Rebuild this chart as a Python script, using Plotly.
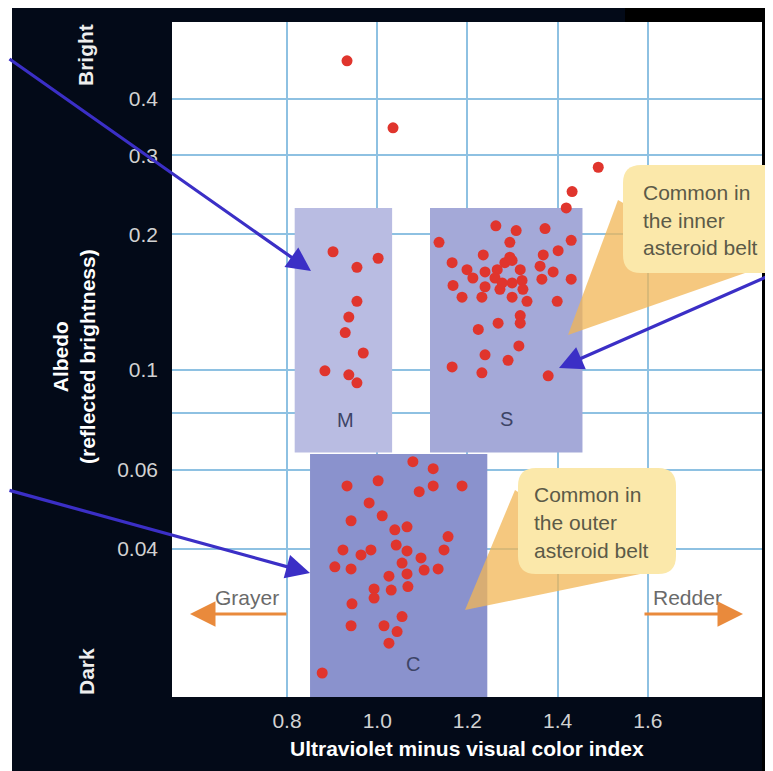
import plotly.graph_objects as go

# ---------------- data ----------------
# M-type asteroids
m_color = [0.902, 0.955, 1.002, 0.955, 0.937, 0.929, 0.969, 0.884, 0.937, 0.955]
m_albedo = [0.183, 0.169, 0.177, 0.142, 0.131, 0.121, 0.109, 0.0995, 0.0975, 0.0936]

# S-type asteroids
s_color = [1.263, 1.308, 1.372, 1.137, 1.294, 1.430, 1.235, 1.294, 1.368, 1.401,
           1.166, 1.283, 1.361, 1.199, 1.239, 1.266, 1.317, 1.390, 1.212, 1.261,
           1.321, 1.365, 1.430, 1.168, 1.239, 1.272, 1.299, 1.323, 1.188, 1.232,
           1.299, 1.332, 1.399, 1.317, 1.317, 1.268, 1.224, 1.314, 1.239, 1.290,
           1.166, 1.232, 1.379, 1.299, 1.277]
s_albedo = [0.209, 0.204, 0.206, 0.192, 0.192, 0.194, 0.180, 0.178, 0.180, 0.184,
            0.173, 0.173, 0.170, 0.167, 0.165, 0.167, 0.167, 0.165, 0.160, 0.160,
            0.158, 0.159, 0.159, 0.154, 0.153, 0.151, 0.156, 0.151, 0.145, 0.145,
            0.145, 0.142, 0.142, 0.132, 0.127, 0.127, 0.123, 0.113, 0.108, 0.105,
            0.1015, 0.0985, 0.097, 0.175, 0.156]

# C-type asteroids
c_color = [1.079, 1.124, 0.933, 1.002, 1.093, 1.124, 1.188, 0.982, 1.011, 0.942,
           1.039, 1.066, 1.157, 0.924, 0.964, 0.986, 1.042, 1.066, 1.148, 0.906,
           0.942, 1.055, 1.097, 1.104, 1.135, 1.026, 1.066, 0.993, 0.993, 1.031,
           1.068, 0.944, 0.942, 1.015, 1.055, 1.044, 1.026, 0.878]
c_albedo = [0.0625, 0.0603, 0.0552, 0.0567, 0.0536, 0.0552, 0.0552, 0.0506, 0.0474, 0.0462,
            0.0441, 0.0448, 0.0426, 0.0398, 0.0388, 0.0398, 0.0408, 0.0396, 0.0398, 0.0365,
            0.0361, 0.0372, 0.0382, 0.0359, 0.0361, 0.0348, 0.0352, 0.0326, 0.0311, 0.0324,
            0.0330, 0.0302, 0.0270, 0.0270, 0.0283, 0.0262, 0.0247, 0.0212]

# other asteroids (outside boxes)
o_color = [0.933, 1.035, 1.490, 1.432, 1.419]
o_albedo = [0.486, 0.345, 0.282, 0.249, 0.229]

# class regions
region_names = ["M", "S", "C"]
region_x0 = [0.817, 1.117, 0.851]
region_x1 = [1.033, 1.455, 1.244]
region_y0 = [0.0655, 0.0655, 0.0180]
region_y1 = [0.229, 0.229, 0.0650]

x_ticks = [0.8, 1.0, 1.2, 1.4, 1.6]
x_tick_text = ["0.8", "1.0", "1.2", "1.4", "1.6"]
y_ticks = [0.04, 0.06, 0.08, 0.1, 0.2, 0.3, 0.4]
y_tick_text = ["0.04", "0.06", "", "0.1", "0.2", "0.3", "0.4"]

# ---------------- styling ----------------
OFF = 8                      # page body margin in the browser
W, H = 773 - OFF, 771 - OFF  # figure size
L, R, T, B = 172, 762, 22, 697  # plot area in window pixels
BG = "#030a18"
FONT = "Liberation Sans, Arial, sans-serif"
DOT = "#e0352d"
BLUE = "#3b2fc6"
ORANGE = "#e98a3c"
YELLOW = "#fbe8aa"
WEDGE = "#f2b654"
TXT = "#5b5a48"


def px(x):
    return (x - L) / (R - L)


def py(y):
    return (B - y) / (B - T)


fig = go.Figure()
for xs, ys in [(m_color, m_albedo), (s_color, s_albedo), (c_color, c_albedo), (o_color, o_albedo)]:
    fig.add_trace(go.Scatter(x=xs, y=ys, mode="markers",
                             marker=dict(color=DOT, size=11, line=dict(width=0)),
                             showlegend=False, hoverinfo="skip"))

shapes = []
box_fill = ["#b9bce2", "#a4a9d8", "#8a92cd"]
for name, x0, x1, y0, y1, fc in zip(region_names, region_x0, region_x1, region_y0, region_y1, box_fill):
    shapes.append(dict(type="rect", xref="x", yref="y", x0=x0, x1=x1, y0=y0, y1=y1,
                       fillcolor=fc, line=dict(width=0), layer="between"))

# page edges
shapes.append(dict(type="rect", xref="paper", yref="paper", x0=px(0), x1=px(12), y0=py(771), y1=py(0),
                   fillcolor="white", line=dict(width=0), layer="below"))
shapes.append(dict(type="rect", xref="paper", yref="paper", x0=px(625), x1=px(773), y0=py(22), y1=py(7),
                   fillcolor="#000000", line=dict(width=0), layer="below"))
shapes.append(dict(type="rect", xref="paper", yref="paper", x0=px(762), x1=px(773), y0=py(771), y1=py(7),
                   fillcolor="#000000", line=dict(width=0), layer="below"))


def tri(p):
    s = "M {} {}".format(px(p[0][0]), py(p[0][1]))
    for a, b in p[1:]:
        s += " L {} {}".format(px(a), py(b))
    return s + " Z"


def rrect(x0, y0, x1, y1, r):
    rx, ry = r / (R - L), r / (B - T)
    X0, X1, Y0, Y1 = px(x0), px(x1), py(y1), py(y0)
    return ("M {a} {Y0} L {b} {Y0} Q {X1} {Y0} {X1} {c} L {X1} {d} Q {X1} {Y1} {b} {Y1} "
            "L {a} {Y1} Q {X0} {Y1} {X0} {d} L {X0} {c} Q {X0} {Y0} {a} {Y0} Z").format(
        a=X0 + rx, b=X1 - rx, c=Y0 + ry, d=Y1 - ry, X0=X0, X1=X1, Y0=Y0, Y1=Y1)


# callout wedges and boxes
shapes.append(dict(type="path", xref="paper", yref="paper",
                   path=tri([(568, 335), (618, 200), (745, 273)]),
                   fillcolor=WEDGE, opacity=0.75, line=dict(width=0), layer="above"))
shapes.append(dict(type="path", xref="paper", yref="paper",
                   path=rrect(623, 165, 800, 273, 18),
                   fillcolor=YELLOW, line=dict(width=0), layer="above"))
shapes.append(dict(type="path", xref="paper", yref="paper",
                   path=tri([(465, 610), (515, 490), (645, 573)]),
                   fillcolor=WEDGE, opacity=0.75, line=dict(width=0), layer="above"))
shapes.append(dict(type="path", xref="paper", yref="paper",
                   path=rrect(518, 468, 676, 574, 18),
                   fillcolor=YELLOW, line=dict(width=0), layer="above"))

ann = []


def text(t, x, y, size=22, color="white", weight="normal", angle=0, xanchor="center"):
    ann.append(dict(text=t, xref="paper", yref="paper", x=px(x), y=py(y), showarrow=False,
                    xanchor=xanchor, yanchor="middle", textangle=angle,
                    font=dict(family=FONT, size=size, color=color, weight=weight)))


def arrow(x0, y0, x1, y1, color, width, head=2, size=1.0):
    ann.append(dict(text="", xref="paper", yref="paper", x=px(x1), y=py(y1),
                    axref="pixel", ayref="pixel", ax=x0 - x1, ay=y0 - y1,
                    showarrow=True, arrowhead=head, arrowsize=size, arrowwidth=width,
                    arrowcolor=color, standoff=0, startstandoff=0))


text("Bright", 86, 55, size=21, color="#eeeeee", weight="bold", angle=-90)
text("Dark", 86, 672, size=21, color="#eeeeee", weight="bold", angle=-90)
text("Albedo<br>(reflected brightness)", 74, 357, size=21, color="white", weight="bold", angle=-90)
text("Ultraviolet minus visual color index", 467, 748, size=21, color="white", weight="bold")

text("M", 345, 420, size=20, color="#3d4466")
text("S", 506, 419, size=20, color="#3d4466")
text("C", 413, 664, size=20, color="#3d4466")

for i, line in enumerate(["Common in", "the inner", "asteroid belt"]):
    text(line, 641, 193 + 27.5 * i, size=21, color=TXT, xanchor="left")
for i, line in enumerate(["Common in", "the outer", "asteroid belt"]):
    text(line, 532, 495 + 27.5 * i, size=21, color=TXT, xanchor="left")

text("Grayer", 247, 597, size=21, color="#6a6a6a")
text("Redder", 687, 597, size=21, color="#6a6a6a")
arrow(288, 614, 190, 614, ORANGE, 3, head=2, size=1.7)
arrow(643, 614, 743, 614, ORANGE, 3, head=2, size=1.7)

arrow(8, 58, 311, 271, BLUE, 3.2, head=2, size=1.5)
arrow(8, 490, 310, 573, BLUE, 3.2, head=2, size=1.5)
arrow(773, 274, 559, 368, BLUE, 3.2, head=2, size=1.5)

fig.update_layout(
    width=W, height=H,
    margin=dict(l=L - OFF, r=773 - R, t=T - OFF, b=771 - B, pad=0),
    paper_bgcolor=BG, plot_bgcolor="white",
    shapes=shapes, annotations=ann,
    showlegend=False,
    font=dict(family=FONT),
)
fig.update_xaxes(range=[0.545, 1.853], tickvals=x_ticks, ticktext=x_tick_text,
                 showgrid=True, gridcolor="#8ec1e2", gridwidth=2, zeroline=False,
                 showline=False, ticks="", ticklabelstandoff=9,
                 tickfont=dict(family=FONT, size=21, color="#d2d2d2"))
fig.update_yaxes(type="log", range=[-1.727, -0.227], tickvals=y_ticks, ticktext=y_tick_text,
                 showgrid=True, gridcolor="#8ec1e2", gridwidth=2, zeroline=False,
                 showline=False, ticks="", ticklabelstandoff=13,
                 tickfont=dict(family=FONT, size=21, color="#d2d2d2"))

fig.write_html("out.html")
